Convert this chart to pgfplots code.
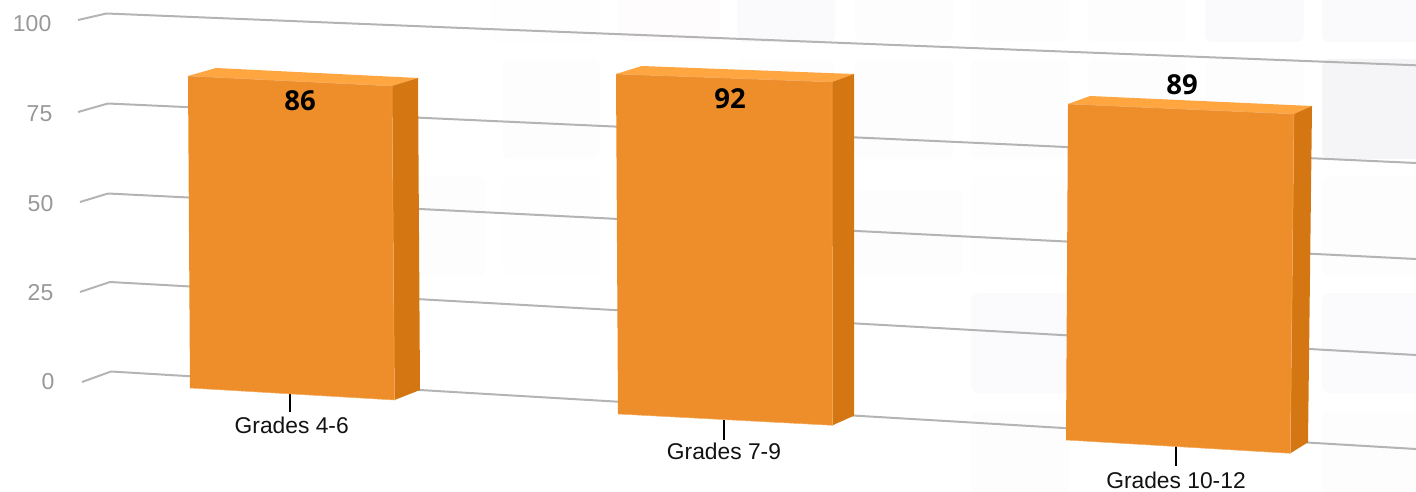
\documentclass[border=0pt]{standalone}
\usepackage{pgfplots}
\pgfplotsset{compat=1.18}
\usepackage{fontspec}
\setmainfont{Liberation Sans}
\newfontfamily\valuefont{Open Sans}[BoldFont={Open Sans Bold}]
\definecolor{barfront}{HTML}{ED8E2A}
\definecolor{bartop}{HTML}{FFA640}
\definecolor{barside}{HTML}{D47611}
\definecolor{baredge}{HTML}{F4AC60}
\definecolor{gridgray}{HTML}{B4B4B4}
\definecolor{ticktext}{HTML}{989898}
\definecolor{tA}{HTML}{FEFEFE}
\definecolor{tB}{HTML}{FDFDFE}
\definecolor{tC}{HTML}{FDFDFE}
\definecolor{tD}{HTML}{FBFBFD}
\definecolor{tE}{HTML}{FAFAFC}
\definecolor{tF}{HTML}{F5F5F8}
\definecolor{tG}{HTML}{FEFCFD}

% faint rounded tiles behind the chart
\newcommand{\tile}[5]{\addplot[fill=#5,draw=none,rounded corners=7pt] coordinates {(#1,#2)(#3,#2)(#3,#4)(#1,#4)} --cycle;}
\newcommand{\face}[2]{\addplot[fill=#1,draw=none] coordinates {#2} --cycle;}
\newcommand{\gridline}[1]{\addplot[gridgray,line width=2pt,line join=round] coordinates {#1};}

\begin{document}
\begin{tikzpicture}
\begin{axis}[
    hide axis, scale only axis,
    width=1416pt, height=492pt,
    xmin=0, xmax=1416, ymin=0, ymax=492,
    y dir=reverse,
]
% row 1
\tile{490}{-20}{600}{42}{tA}
\tile{618}{-20}{720}{42}{tG}
\tile{737}{-20}{835}{42}{tE}
\tile{855}{-20}{953}{42}{tB}
\tile{971}{-20}{1069}{42}{tB}
\tile{1088}{-20}{1186}{42}{tB}
\tile{1205}{-20}{1304}{42}{tE}
\tile{1322}{-20}{1440}{42}{tE}
% row 2
\tile{502}{59}{600}{159}{tC}
\tile{737}{59}{835}{159}{tC}
\tile{855}{59}{953}{159}{tB}
\tile{971}{59}{1069}{159}{tC}
\tile{1088}{59}{1186}{159}{tB}
\tile{1205}{59}{1304}{159}{tB}
\tile{1322}{59}{1440}{159}{tF}
% row 3
\tile{385}{176}{485}{276}{tC}
\tile{502}{176}{600}{276}{tA}
\tile{855}{190}{963}{276}{tC}
\tile{971}{176}{1069}{276}{tA}
\tile{1322}{176}{1440}{276}{tC}
% row 4
\tile{971}{293}{1069}{393}{tD}
\tile{1088}{293}{1186}{393}{tB}
\tile{1205}{293}{1304}{393}{tB}
\tile{1322}{293}{1440}{393}{tD}
% row 5
\tile{971}{411}{1069}{520}{tC}
\tile{1322}{411}{1440}{520}{tC}

% grid lines, 100 down to 0
\gridline{(78,20)(106.5,13.5)(470,28.3)(946,47)(1416,65.3)}
\gridline{(78,112)(108,103.5)(470,120)(946,141.5)(1416,163)}
\gridline{(80,202)(108,193.5)(470,211.5)(946,235.5)(1416,259)}
\gridline{(80,292)(110,282)(470,302)(946,328.5)(1416,355)}
\gridline{(82,382)(111,371.5)(470,393)(946,421)(1416,449)}

% category ticks
\addplot[black,line width=1.7pt] coordinates {(290,394)(290,412)};
\addplot[black,line width=1.7pt] coordinates {(724,420)(724,440)};
\addplot[black,line width=1.7pt] coordinates {(1176,446)(1176,466)};

% Grades 4-6
\face{bartop}{(188,76)(216,68)(418,78)(392,86)}
\face{barside}{(392,86)(418,78)(420,390)(394.5,400)}
\face{barfront}{(188,76)(392,86)(394.5,400)(190,388)}
\addplot[baredge,line width=0.5pt] coordinates {(188,76)(392,86)(394.5,400)(190,388)};
% Grades 7-9
\face{bartop}{(616,74)(641.7,66)(854,74)(832,82)}
\face{barside}{(832,82)(854,74)(854,415.7)(832.5,425.3)}
\face{barfront}{(616,74)(832,82)(832.5,425.3)(618,414)}
\addplot[baredge,line width=0.5pt] coordinates {(616,74)(832,82)(832.5,425.3)(618,414)};
% Grades 10-12
\face{bartop}{(1068,104)(1090,96)(1312,106)(1294,114)}
\face{barside}{(1294,114)(1312,106)(1308,442.3)(1290.3,453.3)}
\face{barfront}{(1068,104)(1294,114)(1290.3,453.3)(1066,440)}
\addplot[baredge,line width=0.5pt] coordinates {(1068,104)(1294,114)(1290.3,453.3)(1066,440)};

% value axis labels
\addplot[draw=none, mark=none, point meta=explicit symbolic, nodes near coords,
    every node near coord/.append style={anchor=east,inner sep=0pt,text=ticktext,font=\fontsize{23}{25}\selectfont}]
    coordinates {(51.5,24)[100](52.5,114)[75](53.5,204)[50](53.5,293)[25](54.5,382)[0]};
% category labels
\addplot[draw=none, mark=none, point meta=explicit symbolic, nodes near coords,
    every node near coord/.append style={anchor=center,inner sep=0pt,text=black!93,font=\fontsize{22.8}{25}\selectfont}]
    coordinates {(291.7,425.7)[Grades 4-6](724,451.7)[Grades 7-9](1176,480)[Grades 10-12]};
% bar values
\addplot[draw=none, mark=none, point meta=explicit symbolic, nodes near coords,
    every node near coord/.append style={anchor=center,inner sep=0pt,text=black,font=\valuefont\bfseries\fontsize{27.5}{29}\selectfont}]
    coordinates {(300,100.7)[86](730,98.3)[92](1182,84.7)[89]};
\end{axis}
\pgfresetboundingbox
\path[use as bounding box] (current axis.south west) rectangle (current axis.north east);
\end{tikzpicture}
\end{document}
